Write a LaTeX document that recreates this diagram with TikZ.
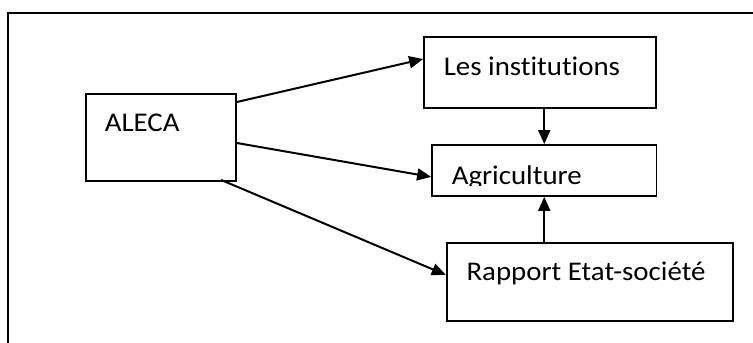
\documentclass[tikz,border=0pt]{standalone}
\usepackage{fontspec}
\setmainfont{Carlito}[Ligatures=NoCommon]
\usetikzlibrary{arrows.meta}
\begin{document}
\begin{tikzpicture}[x=1pt,y=-1pt,
  box/.style={draw,line width=1.8pt,inner sep=0pt},
  lbl/.style={anchor=base west,inner sep=0pt,font=\fontsize{27}{31}\selectfont},
  conn/.style={line width=2pt,-{Triangle[length=14pt,width=12pt]}}]
\useasboundingbox (0,0) rectangle (753,343);
% outer frame (continues beyond the picture)
\draw[line width=1.8pt] (770,13.2) -- (7.8,13.2) -- (7.8,360);
% boxes
\node[box,minimum width=150pt,minimum height=87pt] (aleca) at (161,137.5) {};
\node[box,minimum width=232pt,minimum height=70.4pt] (inst) at (540,72.5) {};
\node[box,minimum width=224.5pt,minimum height=51pt] (agri) at (544.25,170.5) {};
\node[box,minimum width=286.3pt,minimum height=77.7pt] (rap) at (589.85,281.85) {};
% texts (Agriculture cut off at the bottom, as in the reference)
\node[lbl] (tAleca) at ([xshift=19.5pt,yshift=-38.7pt]aleca.north west) {\scalebox{1.07}[1]{ALECA}};
\node[lbl] (tInst) at ([xshift=20.5pt,yshift=-38.7pt]inst.north west) {\scalebox{1.07}[1]{Les institutions}};
\begin{scope}
  \clip ([yshift=11.5pt]agri.south west) rectangle (agri.north east);
  \node[lbl] (tAgri) at ([xshift=20.5pt,yshift=-40.3pt]agri.north west) {\scalebox{1.07}[1]{Agriculture}};
\end{scope}
\node[lbl] (tRap) at ([xshift=20.5pt,yshift=-38.7pt]rap.north west) {\scalebox{1.07}[1]{Rapport Etat-société}};
% connectors
\draw[conn] ([yshift=35.5pt]aleca.east) -- ([yshift=13.5pt]inst.west);
\draw[conn] ([yshift=-5.5pt]aleca.east) -- ([yshift=-6.4pt]agri.west);
\draw[conn] ([xshift=60pt,yshift=2pt]aleca.south) -- ([yshift=7pt]rap.west);
\draw[conn] (agri.north |- inst.south) -- (agri.north);
\draw[conn] (agri.south |- rap.north) -- (agri.south);
\end{tikzpicture}
\end{document}
